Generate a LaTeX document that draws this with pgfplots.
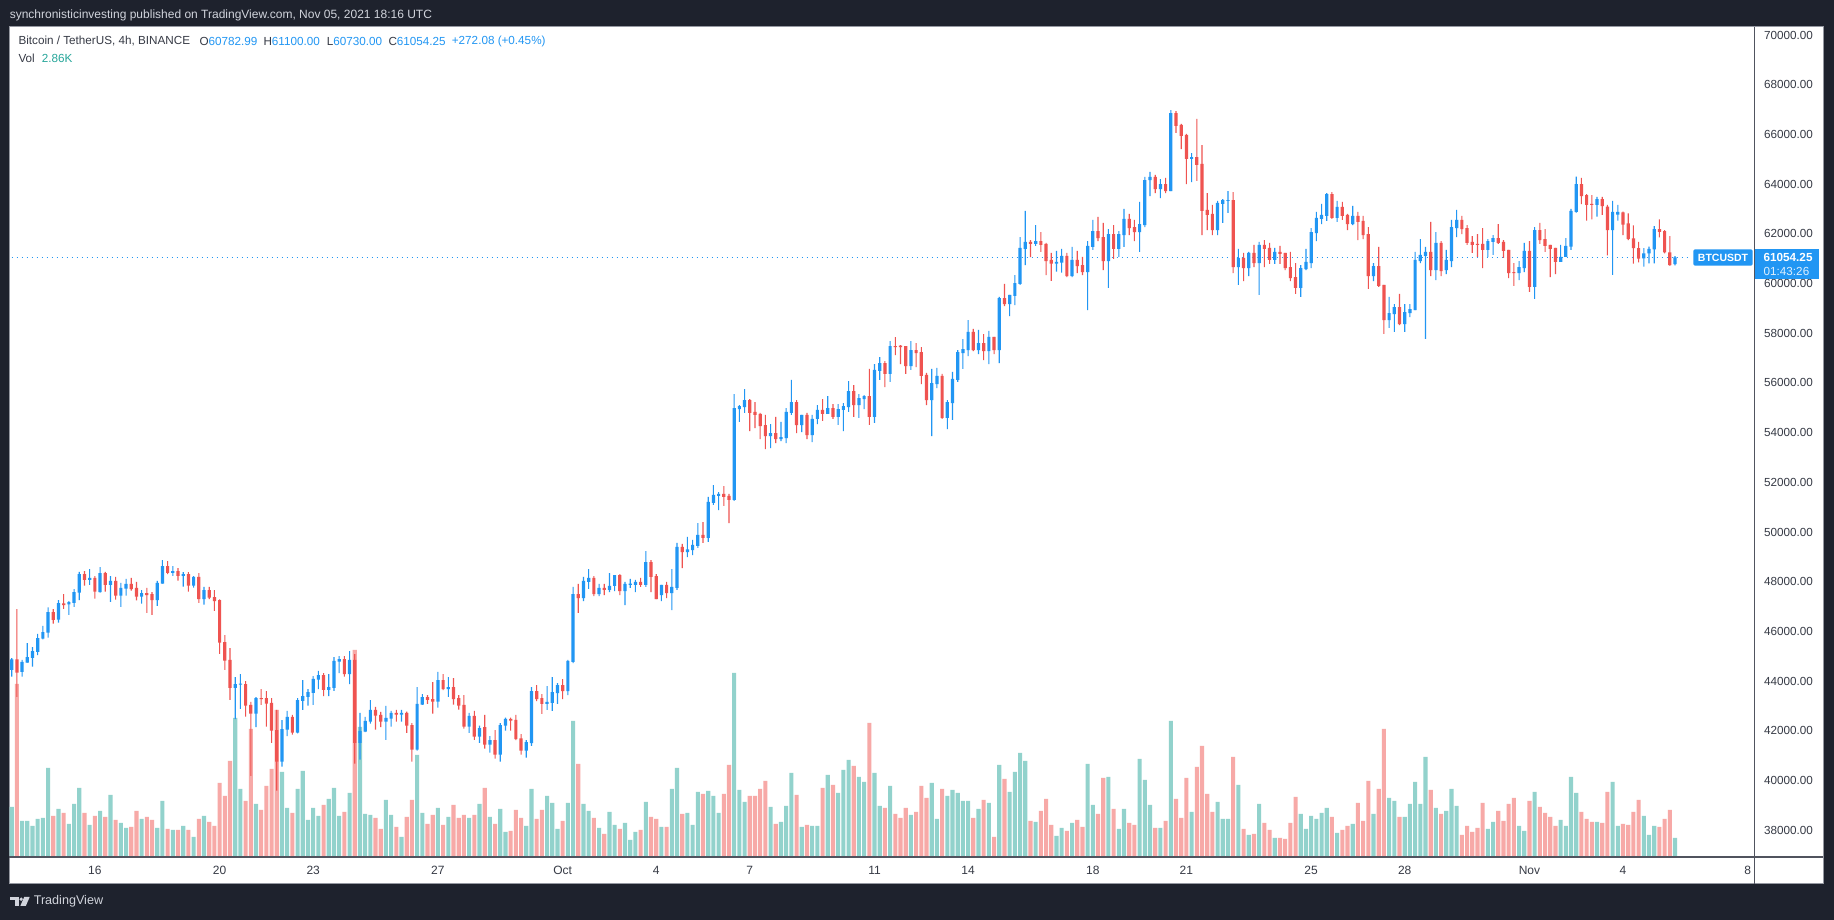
\documentclass[border=0pt]{standalone}
\usepackage{pgfplots}
\pgfplotsset{compat=1.18}
\usepackage{pgfplotstable}
\usepackage{fontspec}
\setmainfont{Liberation Sans}
\definecolor{bgd}{HTML}{1E222D}
\definecolor{upc}{HTML}{2196F3}
\definecolor{dnc}{HTML}{EF5350}
\definecolor{upv}{HTML}{92D2CC}
\definecolor{dnv}{HTML}{F7A9A7}
\definecolor{sep}{HTML}{50535E}
\definecolor{lbl}{HTML}{363A45}
\definecolor{hdr}{HTML}{D1D4DC}
\definecolor{volc}{HTML}{26A69A}
\definecolor{brd}{HTML}{9598A1}

\pgfplotstableread{
o h l c u v
44.45 44.93 44.18 44.88 1 50
44.88 46.90 43.37 44.34 0 173
44.37 44.85 44.18 44.77 1 36
44.74 45.53 44.74 44.97 1 36
44.94 45.37 44.58 45.21 1 31
45.18 45.90 45.05 45.73 1 38
45.71 46.22 45.68 45.97 1 39
45.95 46.97 45.75 46.78 1 89
46.78 46.90 46.31 46.46 0 41
46.47 47.26 46.35 47.14 1 48
47.13 47.50 46.91 47.06 0 44
47.09 47.22 46.67 47.18 1 33
47.15 47.70 46.99 47.58 1 53
47.56 48.40 47.26 48.31 1 69
48.31 48.43 47.84 48.07 0 44
48.07 48.51 47.87 48.15 1 32
48.15 48.23 47.32 47.60 0 41
47.58 48.59 47.56 48.35 1 46
48.35 48.40 47.60 47.87 0 40
47.87 48.23 47.19 48.03 1 62
48.03 48.19 47.28 47.44 0 37
47.44 47.95 46.99 47.75 1 34
47.72 48.11 47.44 47.91 1 29
47.91 48.15 47.64 47.70 0 30
47.75 47.99 47.25 47.40 0 46
47.40 47.66 47.12 47.54 1 38
47.54 47.75 46.75 47.46 0 40
47.50 47.58 46.67 47.26 0 37
47.26 48.03 47.03 47.95 1 29
47.92 48.87 47.92 48.63 1 56
48.63 48.83 48.31 48.36 0 28
48.36 48.63 48.24 48.43 1 27
48.43 48.55 48.04 48.24 0 27
48.24 48.39 47.80 48.31 1 31
48.31 48.39 47.60 47.84 0 27
47.84 48.23 47.76 48.19 1 20
48.19 48.35 47.15 47.30 0 38
47.30 47.79 47.08 47.66 1 41
47.66 47.79 47.30 47.36 0 35
47.38 47.66 46.83 47.22 0 31
47.26 47.29 45.10 45.55 0 74
45.57 45.85 44.45 44.82 0 61
44.85 45.33 43.25 43.73 0 96
43.73 44.16 42.47 43.88 1 139
43.86 44.28 42.88 43.88 1 68
43.88 44.00 42.57 43.01 0 56
43.04 43.16 40.19 42.69 0 128
42.69 43.36 42.15 43.32 1 53
43.32 43.68 43.04 43.28 0 47
43.32 43.60 42.17 43.09 0 71
43.12 43.32 41.52 42.01 0 88
42.03 42.84 39.59 40.76 0 147
40.76 42.43 40.56 42.07 1 85
42.05 42.80 41.79 42.56 1 49
42.56 42.64 41.85 41.93 0 44
41.93 43.32 41.90 43.24 1 68
43.21 44.04 42.84 43.40 1 86
43.37 43.68 43.01 43.56 1 37
43.53 44.20 43.04 44.09 1 49
44.06 44.41 43.68 44.24 1 41
44.24 44.32 43.40 43.65 0 52
43.65 44.28 43.40 43.76 1 58
43.73 44.97 43.61 44.81 1 69
44.78 45.01 44.32 44.89 1 41
44.89 45.01 44.18 44.28 0 45
44.28 45.21 43.88 44.85 1 64
44.85 45.09 40.68 41.52 0 207
41.52 42.72 40.84 41.99 1 130
41.97 42.56 41.95 42.40 1 43
42.37 43.24 42.29 42.84 1 42
42.84 42.96 42.05 42.61 0 39
42.64 42.76 42.15 42.37 0 28
42.37 43.00 41.64 42.52 1 57
42.49 42.80 42.17 42.72 1 42
42.72 42.84 42.37 42.65 0 30
42.65 42.84 42.37 42.72 1 20
42.72 42.77 41.92 42.21 0 40
42.23 42.31 40.76 41.24 0 57
41.24 43.76 41.20 43.08 1 102
43.05 43.48 43.04 43.36 1 44
43.36 43.44 43.08 43.25 0 33
43.28 43.96 42.69 43.17 0 42
43.17 44.37 42.93 44.04 1 49
44.04 44.28 43.64 43.68 0 32
43.68 44.16 43.37 43.76 1 40
43.76 44.12 43.05 43.28 0 52
43.32 43.44 42.85 43.01 0 39
43.04 43.44 42.09 42.17 0 42
42.17 42.72 41.92 42.60 1 39
42.60 42.80 41.64 41.77 0 42
41.77 42.21 41.52 42.11 1 53
42.15 42.64 41.28 41.44 0 69
41.44 41.79 41.12 41.63 1 40
41.63 42.03 40.88 41.04 0 33
41.04 42.31 40.76 42.23 1 48
42.21 42.53 42.01 42.48 1 25
42.48 42.53 42.01 42.41 0 26
42.44 42.64 41.63 41.67 0 47
41.70 41.87 41.04 41.20 0 39
41.20 41.63 40.92 41.55 1 31
41.51 43.76 41.39 43.60 1 68
43.60 43.84 43.20 43.28 0 38
43.32 43.48 42.68 43.08 0 47
43.08 43.80 42.84 43.16 1 61
43.12 44.16 42.80 43.56 1 54
43.52 43.92 43.08 43.84 1 28
43.84 44.08 43.28 43.60 0 36
43.60 44.85 43.44 44.81 1 54
44.77 47.79 44.72 47.50 1 136
47.50 47.91 46.75 47.34 0 93
47.34 48.19 47.22 48.03 1 53
47.99 48.51 47.71 48.15 1 46
48.15 48.23 47.42 47.50 0 39
47.50 47.91 47.42 47.75 1 29
47.75 47.91 47.46 47.67 0 23
47.67 48.35 47.58 47.83 1 45
47.83 48.27 47.62 48.27 1 32
48.27 48.31 47.46 47.62 0 28
47.62 47.99 47.06 47.91 1 34
47.87 48.11 47.75 47.92 1 17
47.87 48.07 47.58 47.99 1 25
47.99 48.15 47.79 47.87 0 27
47.87 49.23 47.79 48.79 1 55
48.79 48.87 47.58 48.19 0 40
48.23 48.31 47.30 47.30 0 38
47.46 47.87 47.22 47.87 1 30
47.87 47.99 47.34 47.54 0 30
47.54 48.51 46.86 47.79 1 68
47.75 49.56 47.67 49.40 1 89
49.40 49.52 48.55 49.19 0 43
49.19 49.80 48.99 49.30 1 44
49.27 49.68 49.07 49.48 1 32
49.44 50.36 49.36 49.88 1 65
49.88 50.40 49.56 49.76 0 63
49.76 51.41 49.60 51.21 1 66
51.17 51.89 51.09 51.49 1 61
51.45 51.61 50.88 51.53 1 44
51.53 51.85 51.05 51.41 0 63
51.45 51.53 50.36 51.29 0 92
51.29 55.55 51.25 54.99 1 184
54.95 55.11 54.43 55.07 1 67
55.03 55.75 54.79 55.31 1 55
55.31 55.35 54.06 54.79 0 61
54.83 55.23 54.18 54.71 0 61
54.75 54.79 53.74 54.26 0 68
54.30 54.71 53.34 53.86 0 76
53.86 54.34 53.38 53.98 1 50
53.98 54.63 53.58 53.74 0 33
53.74 54.43 53.66 53.82 1 35
53.78 54.99 53.58 54.83 1 51
54.79 56.12 54.71 55.23 1 84
55.23 55.31 53.98 54.30 0 62
54.30 54.71 54.02 54.71 1 30
54.71 54.79 53.74 53.90 0 32
53.90 54.71 53.62 54.55 1 31
54.55 55.11 54.34 54.91 1 31
54.91 55.35 54.47 54.75 0 69
54.75 55.47 54.75 54.99 1 82
54.99 55.15 54.55 54.63 0 72
54.63 55.15 54.31 54.95 1 64
54.91 55.19 54.06 55.07 1 87
55.03 56.07 54.83 55.67 1 97
55.67 55.91 54.63 55.11 0 91
55.11 55.55 54.59 55.39 1 80
55.35 55.51 54.95 55.47 1 75
55.47 56.56 54.31 54.63 0 134
54.63 56.76 54.39 56.52 1 84
56.48 57.04 56.12 56.80 1 51
56.80 56.88 55.83 56.36 0 49
56.36 57.68 56.04 57.48 1 71
57.48 57.84 57.12 57.44 0 43
57.50 57.52 56.76 57.44 0 39
57.48 57.48 56.36 56.68 0 49
56.68 57.68 56.52 57.32 1 42
57.32 57.60 56.64 57.20 0 45
57.24 57.44 55.95 56.28 0 71
56.32 56.40 55.11 55.31 0 59
55.31 56.56 53.86 55.99 1 74
55.95 56.60 55.79 56.28 1 38
56.28 56.36 54.55 54.59 0 68
54.59 55.31 54.14 55.23 1 61
55.19 56.44 54.51 56.16 1 67
56.12 57.32 56.04 57.24 1 64
57.20 57.76 56.56 57.36 1 56
57.32 58.53 57.08 58.05 1 56
58.05 58.17 57.28 57.32 0 39
57.32 58.13 57.16 57.60 1 48
57.60 57.96 56.92 57.28 0 57
57.28 58.09 56.76 57.85 1 54
57.85 57.85 57.16 57.32 0 20
57.32 59.46 56.80 59.41 1 92
59.41 59.98 59.09 59.17 0 78
59.17 59.54 58.69 59.54 1 65
59.50 60.34 59.13 60.02 1 85
59.98 61.87 59.94 61.43 1 104
61.39 62.92 60.74 61.67 1 96
61.67 61.75 61.06 61.59 0 36
61.59 62.35 61.51 61.71 1 35
61.71 62.07 61.27 61.55 0 46
61.59 61.63 60.34 60.90 0 58
60.95 61.23 60.11 60.80 0 32
60.80 61.31 60.48 60.87 1 21
60.84 61.39 60.44 61.11 1 29
61.11 61.23 60.26 60.30 0 26
60.30 61.47 60.26 60.95 1 34
60.95 61.31 60.42 60.70 0 37
60.74 61.07 60.34 60.46 0 30
60.46 61.71 58.93 61.51 1 93
61.47 62.56 61.35 62.11 1 52
62.11 62.68 61.71 61.83 0 43
61.87 62.44 60.54 60.90 0 79
60.90 62.19 59.82 61.99 1 80
61.99 62.35 60.99 61.39 0 48
61.39 62.11 61.07 61.99 1 28
61.95 63.00 61.47 62.60 1 48
62.60 62.80 61.95 62.23 0 34
62.27 62.56 61.71 62.07 0 32
62.07 63.28 61.27 62.39 1 98
62.35 64.29 62.27 64.16 1 77
64.16 64.49 63.52 64.29 1 52
64.29 64.37 63.64 63.80 0 29
63.80 64.20 63.44 64.00 1 29
64.00 64.25 63.64 63.72 0 36
63.72 66.98 63.72 66.86 1 136
66.86 66.94 66.06 66.34 0 58
66.38 66.42 65.41 65.94 0 39
65.98 66.02 64.00 65.01 0 79
65.01 65.25 64.08 65.09 1 45
65.09 66.62 64.13 64.77 0 90
64.81 65.57 61.95 62.92 0 111
62.96 63.64 62.15 62.76 0 63
62.80 63.16 61.95 62.15 0 45
62.15 63.32 61.95 63.24 1 55
63.20 63.40 62.44 63.36 1 38
63.32 63.72 62.84 63.36 1 38
63.36 63.68 60.42 60.66 0 100
60.66 61.39 59.94 61.03 1 72
61.03 61.23 60.10 60.62 0 28
60.62 61.27 60.30 61.23 1 22
61.23 61.55 60.66 60.82 0 23
60.82 61.67 59.54 61.55 1 53
61.55 61.75 60.66 61.39 0 34
61.43 61.63 60.79 60.95 0 27
60.95 61.43 60.79 61.27 1 19
61.27 61.51 60.79 61.19 0 19
61.23 61.23 60.54 60.62 0 18
60.66 61.27 60.10 60.22 0 34
60.26 60.82 59.58 59.82 0 60
59.82 60.74 59.46 60.62 1 43
60.58 61.39 60.54 60.87 1 28
60.82 62.23 60.62 62.07 1 41
62.03 62.88 61.71 62.64 1 38
62.60 63.20 62.39 62.76 1 44
62.72 63.64 62.52 63.60 1 49
63.60 63.68 62.60 62.64 0 40
62.64 63.32 62.48 63.08 1 24
63.08 63.28 62.56 62.72 0 27
62.76 62.80 62.15 62.39 0 31
62.39 63.12 62.35 62.72 1 33
62.72 62.88 61.75 62.48 0 54
62.52 62.72 61.79 61.95 0 36
61.99 62.27 59.78 60.30 0 76
60.30 60.82 60.10 60.70 1 43
60.70 61.47 59.86 59.90 0 68
59.94 59.94 57.97 58.53 0 128
58.53 59.46 58.21 58.81 1 59
58.77 59.17 58.05 59.05 1 56
59.05 59.58 58.33 58.37 0 40
58.37 59.17 58.05 58.85 1 40
58.81 59.17 58.65 58.97 1 53
58.93 61.27 58.93 60.95 1 75
60.90 61.79 60.82 61.15 1 53
61.11 61.47 57.77 61.27 1 100
61.27 62.48 60.30 60.54 0 67
60.54 62.07 60.14 61.63 1 49
61.63 61.71 60.30 60.50 0 43
60.54 61.35 60.38 60.95 1 46
60.90 62.56 60.66 62.27 1 68
62.23 62.96 61.87 62.56 1 51
62.56 62.72 61.99 62.19 0 22
62.23 62.35 61.55 61.63 0 31
61.67 61.91 61.23 61.55 0 25
61.59 61.99 61.07 61.55 0 29
61.59 62.23 60.62 61.35 0 54
61.35 61.79 61.07 61.71 1 28
61.67 61.95 61.15 61.83 1 35
61.83 62.39 61.59 61.63 0 46
61.67 61.75 61.03 61.31 0 36
61.35 61.35 60.22 60.42 0 53
60.46 60.82 59.90 60.42 0 59
60.42 60.90 60.14 60.66 1 31
60.62 61.63 60.46 61.31 1 26
61.31 61.71 59.66 59.86 0 56
59.86 62.27 59.38 62.15 1 65
62.15 62.44 61.59 61.75 0 50
61.79 62.19 61.27 61.51 0 44
61.55 61.55 60.26 61.39 0 40
61.43 61.43 60.38 60.87 0 31
60.87 61.55 60.87 61.07 1 37
61.07 61.83 61.07 61.51 1 31
61.48 63.00 61.35 62.92 1 80
62.88 64.30 62.85 64.00 1 64
64.00 64.25 63.19 63.52 0 45
63.56 63.60 62.53 63.16 0 38
63.20 63.56 62.58 63.16 0 35
63.16 63.49 62.69 63.40 1 35
63.40 63.49 62.76 63.11 0 34
63.09 63.16 61.13 62.15 0 65
62.15 63.32 60.35 62.88 1 75
62.77 63.16 62.53 62.88 1 31
62.86 62.89 61.95 62.37 0 33
62.42 62.82 61.75 61.80 0 32
61.82 62.34 60.80 61.42 0 45
61.42 61.68 60.85 61.00 0 57
61.01 61.42 60.68 61.21 1 41
61.21 61.48 60.81 61.39 1 22
61.37 62.31 60.81 62.19 1 31
62.19 62.58 61.86 62.08 0 30
62.11 62.15 61.21 61.25 0 38
61.25 61.91 60.71 60.74 0 47
60.78 61.10 60.73 61.05 1 19
}\candles

\pgfplotsset{
  tvaxis/.style={
    at={(9pt,63pt)}, anchor=south west, scale only axis,
    width=1745pt, height=830pt,
    xmin=-0.52, xmax=335.2, enlargelimits=false,
    axis line style={draw=none},
    tick style={draw=none},
    major tick length=0pt,
  },
  bare/.style={tvaxis, xtick=\empty, ytick=\empty},
}

\newcommand{\lf}{\fontsize{11.7}{12}\selectfont}

\begin{document}
\begin{tikzpicture}[x=1pt,y=1pt]
\useasboundingbox (0,0) rectangle (1834,920);
\fill[bgd] (0,0) rectangle (1834,920);
\fill[white] (9,36) rectangle (1823,893);
\draw[brd, line width=1pt] (9,36) rectangle (1823,893);

% ticks and current-price line
\begin{axis}[tvaxis, ymin=36.923, ymax=70.322,
  ytick={38,40,...,70},
  yticklabels={38000.00,40000.00,42000.00,44000.00,46000.00,48000.00,50000.00,52000.00,54000.00,56000.00,58000.00,60000.00,62000.00,64000.00,66000.00,68000.00,70000.00},
  yticklabel pos=right,
  yticklabel shift=10pt,
  yticklabel style={anchor=west, inner sep=0pt, font=\lf, text=lbl},
  xtick={16,40,58,82,106,124,142,166,184,208,226,250,268,292,310,334},
  xticklabels={16,20,23,27,Oct,4,7,11,14,18,21,25,28,Nov,4,8},
  xticklabel shift=13.7pt,
  xticklabel style={anchor=center, inner sep=0pt, font=\fontsize{12}{12}\selectfont, text=lbl},
]
\addplot[upc, line width=1.2pt, dash pattern=on 1.2pt off 3.8pt] coordinates {(-1,61.054) (322.9,61.054)};
\end{axis}

% volume
\begin{axis}[bare, ymin=0, ymax=830, ybar stacked, bar width=4.1pt]
\addplot[fill=upv, draw=none] table[x expr=\coordindex, y expr={\thisrow{u}*\thisrow{v}}]{\candles};
\addplot[fill=dnv, draw=none] table[x expr=\coordindex, y expr={(1-\thisrow{u})*\thisrow{v}}]{\candles};
\end{axis}

% wicks
\begin{axis}[bare, ymin=36.923, ymax=70.322, ybar stacked, bar width=1.1pt]
\addplot[fill=none, draw=none] table[x expr=\coordindex, y=l]{\candles};
\addplot[fill=upc, draw=none] table[x expr=\coordindex, y expr={\thisrow{u}*(\thisrow{h}-\thisrow{l})}]{\candles};
\addplot[fill=dnc, draw=none] table[x expr=\coordindex, y expr={(1-\thisrow{u})*(\thisrow{h}-\thisrow{l})}]{\candles};
\end{axis}

% bodies
\begin{axis}[bare, ymin=36.923, ymax=70.322, ybar stacked, bar width=3.2pt]
\addplot[fill=none, draw=none] table[x expr=\coordindex, y expr={min(\thisrow{o},\thisrow{c})}]{\candles};
\addplot[fill=upc, draw=none] table[x expr=\coordindex, y expr={\thisrow{u}*max(abs(\thisrow{c}-\thisrow{o}),0.04)}]{\candles};
\addplot[fill=dnc, draw=none] table[x expr=\coordindex, y expr={(1-\thisrow{u})*max(abs(\thisrow{c}-\thisrow{o}),0.04)}]{\candles};
\end{axis}

% separators
\draw[sep, line width=1.3pt] (1754.3,36) -- (1754.3,893);
\draw[sep, line width=1.3pt] (9,63) -- (1823,63);

% price tags
\fill[upc, rounded corners=1.5pt] (1693.3,654.3) rectangle (1752.7,670.7);
\node[white, inner sep=0pt, font=\bfseries\fontsize{10.5}{11}\selectfont] at (1723,662.5) {BTCUSDT};
\fill[upc] (1755,640.7) rectangle (1819,670.7);
\node[anchor=west, white, inner sep=0pt, font=\bfseries\lf] at (1763.5,662.3) {61054.25};
\node[anchor=west, white!85!upc, inner sep=0pt, font=\lf] at (1763.5,648.3) {01:43:26};

% header
\node[anchor=west, hdr, inner sep=0pt, font=\fontsize{12}{12}\selectfont] at (9.6,905) {synchronisticinvesting published on TradingView.com, Nov 05, 2021 18:16 UTC};

% legend
\begin{scope}[every node/.style={anchor=west, inner sep=0pt, font=\lf, text=lbl}]
\node at (18.3,879) {Bitcoin / TetherUS, 4h, BINANCE};
\node at (199.3,879) {O\textcolor{upc}{60782.99}};
\node at (263.3,879) {H\textcolor{upc}{61100.00}};
\node at (326.7,879) {L\textcolor{upc}{60730.00}};
\node at (388.3,879) {C\textcolor{upc}{61054.25}};
\node at (451.7,879) {\textcolor{upc}{+272.08 (+0.45\%)}};
\node at (18.3,861.7) {Vol};
\node at (41.7,861.7) {\textcolor{volc}{2.86K}};
\end{scope}

% TradingView logo
\fill[hdr] (10,19.5) rectangle (18.5,23);
\fill[hdr] (14.5,14) rectangle (18.5,23);
\fill[hdr] (21.2,20.8) circle (1.8);
\fill[hdr] (24.2,23) -- (29.7,23) -- (25.8,14) -- (20.3,14) -- cycle;
\node[anchor=west, hdr, inner sep=0pt, font=\fontsize{12.6}{13}\selectfont] at (33.6,18.3) {TradingView};
\end{tikzpicture}
\end{document}
